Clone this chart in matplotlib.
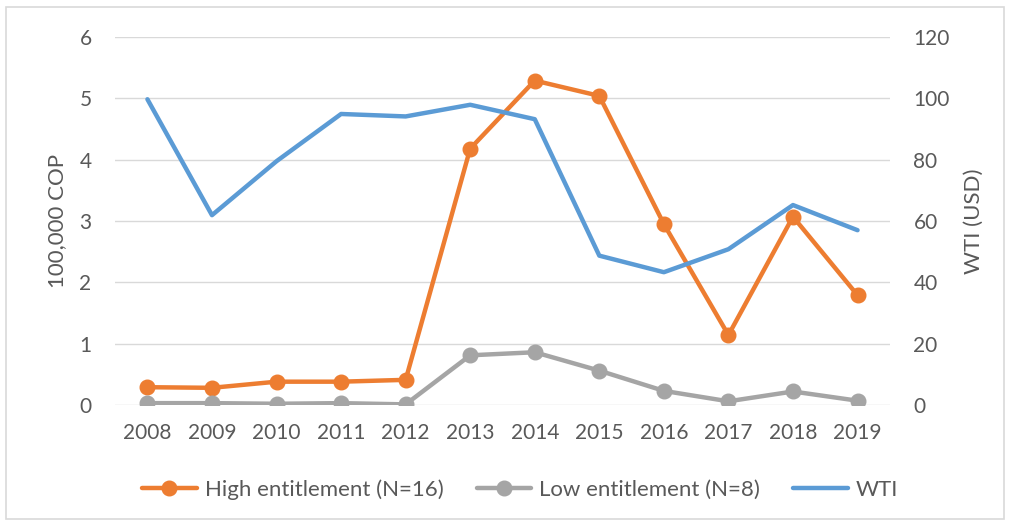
import matplotlib
matplotlib.use('Agg')
import matplotlib.pyplot as plt
from matplotlib.patches import Rectangle

plt.rcParams['font.family'] = ['Lato', 'DejaVu Sans']

years = [2008, 2009, 2010, 2011, 2012, 2013, 2014, 2015, 2016, 2017, 2018, 2019]
high_ent = [0.29, 0.28, 0.38, 0.38, 0.41, 4.18, 5.29, 5.04, 2.95, 1.14, 3.07, 1.79]
low_ent = [0.03, 0.03, 0.02, 0.03, 0.01, 0.81, 0.86, 0.56, 0.23, 0.06, 0.22, 0.07]
wti = [99.7, 61.9, 79.5, 94.9, 94.1, 97.9, 93.2, 48.7, 43.3, 50.8, 65.2, 57.0]

ORANGE = '#ed7d31'
GRAY = '#a5a5a5'
BLUE = '#5b9bd5'
TXT = '#595959'

fig = plt.figure(figsize=(10.1, 5.25), dpi=100)
ax = fig.add_axes([0.114, 0.2286, 0.767, 0.7009])
ax2 = ax.twinx()

l_hi, = ax.plot(years, high_ent, color=ORANGE, lw=3.2, marker='o', ms=10.5,
                solid_capstyle='round', label='High entitlement (N=16)')
l_lo, = ax.plot(years, low_ent, color=GRAY, lw=3.2, marker='o', ms=10.5,
                solid_capstyle='round', label='Low entitlement (N=8)')
l_wti, = ax2.plot(years, wti, color=BLUE, lw=3.2, solid_capstyle='round',
                  label='WTI')

ax.set_xlim(2007.5, 2019.5)
ax.set_ylim(0, 6)
ax2.set_ylim(0, 120)
ax.set_xticks(years)
ax.set_yticks(range(0, 7))
ax2.set_yticks(range(0, 121, 20))
ax.grid(True, axis='y', color='#d9d9d9', lw=1)
ax.set_axisbelow(True)

for a in (ax, ax2):
    for s in a.spines.values():
        s.set_visible(False)
    a.tick_params(length=0, labelsize=15, colors=TXT)
ax.tick_params(axis='x', pad=13)
ax.tick_params(axis='y', pad=17)
ax2.tick_params(axis='y', pad=17)

ax.set_ylabel('100,000 COP', fontsize=16, color=TXT, labelpad=9)
ax2.set_ylabel('WTI (USD)', fontsize=16, color=TXT, labelpad=10)

fig.legend(handles=[l_hi, l_lo, l_wti], loc='center', bbox_to_anchor=(0.515, 0.068),
           ncol=3, frameon=False, fontsize=16, labelcolor=TXT, handlelength=2.45,
           handletextpad=0.36, columnspacing=1.5)

fig.patches.append(Rectangle((0.006, 0.011), 0.988, 0.976, transform=fig.transFigure,
                             fill=False, edgecolor='#d9d9d9', lw=1.2))

fig.savefig('out.png', dpi=100)
